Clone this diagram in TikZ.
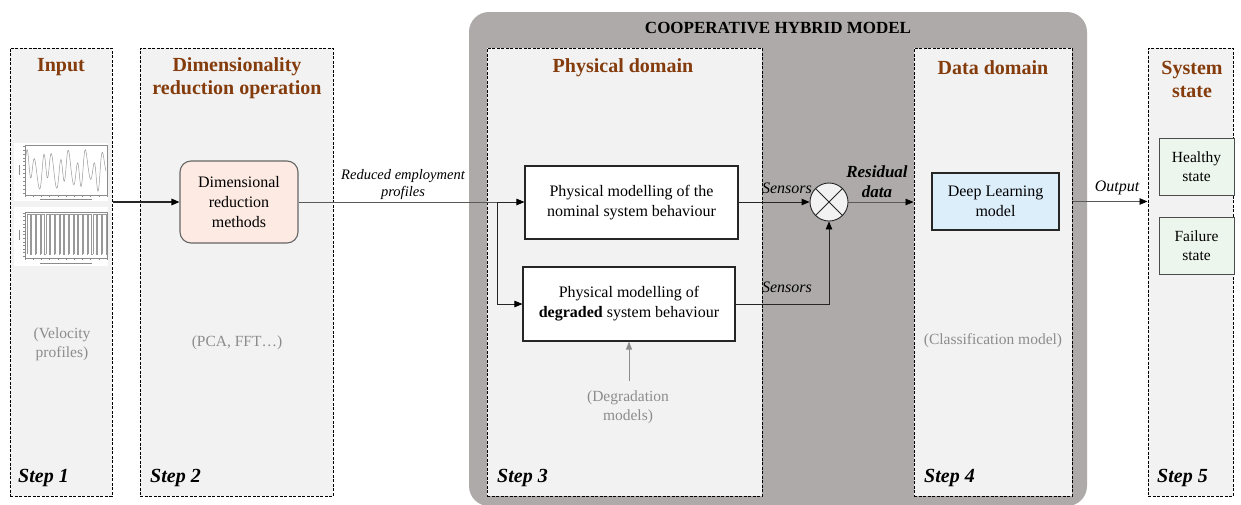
\documentclass[tikz,border=0pt]{standalone}
\usepackage{fontspec}
\setmainfont{Liberation Serif}
\usetikzlibrary{arrows.meta,calc}
\definecolor{panelfill}{HTML}{F2F2F2}
\definecolor{hybridgray}{HTML}{AEAAAA}
\definecolor{titlebrown}{HTML}{843C0C}
\definecolor{pinkfill}{HTML}{FCEAE3}
\definecolor{bluefill}{HTML}{DDEEFB}
\definecolor{greenfill}{HTML}{EDF6EC}
\definecolor{notegray}{HTML}{8C8C8C}
\definecolor{linegray}{HTML}{595959}
\begin{document}
\begin{tikzpicture}[x=1pt,y=-1pt,
 panel/.style={draw=black, dash pattern=on 3pt off 1.5pt, line width=1pt, fill=panelfill, inner sep=0pt},
 ptitle/.style={text=titlebrown, font=\fontsize{20}{23}\selectfont\bfseries, align=center},
 steplabel/.style={font=\fontsize{20}{24}\selectfont\bfseries\itshape, anchor=west, inner sep=0pt},
 note/.style={text=notegray, font=\fontsize{15.5}{19}\selectfont, align=center},
 box/.style={draw=black!85, line width=1.1pt, align=center, font=\fontsize{16}{20}\selectfont, inner sep=0pt},
 conn/.style={draw=black!85, line width=0.9pt},
 thinconn/.style={draw=linegray, line width=0.7pt},
 arr/.style={-{Triangle[length=8pt,width=6.5pt,color=black]}},
 lbl/.style={font=\fontsize{16}{19}\selectfont\itshape},
 plotline/.style={draw=black!40, line width=0.5pt},
 axisline/.style={draw=black!45, line width=0.3pt}]
\useasboundingbox (0,0) rectangle (1241,504);
\clip (0,0) rectangle (1241,504);
\fill[white] (0,0) rectangle (1241,504);

% hybrid background
\fill[hybridgray, rounded corners=20pt] (469,12) rectangle (1087,506);
\node[font=\fontsize{17}{20}\selectfont\bfseries] (hyb) at (778,28) {COOPERATIVE HYBRID MODEL};

% panels
\node[panel, minimum width=102pt, minimum height=448pt] (p1) at (61,272) {};
\node[panel, minimum width=193pt, minimum height=448pt] (p2) at (236.5,272) {};
\node[panel, minimum width=275pt, minimum height=448pt] (p3) at (624.5,272) {};
\node[panel, minimum width=158pt, minimum height=448pt] (p4) at (993,272) {};
\node[panel, minimum width=85pt, minimum height=448pt] (p5) at (1190.5,272) {};

% titles
\node[ptitle] (t1) at (61,67) {Input};
\node[ptitle] (t2) at (237,78) {Dimensionality\\reduction operation};
\node[ptitle] (t3) at (623,68) {Physical domain};
\node[ptitle] (t4) at (993,68) {Data domain};
\node[ptitle] (t5) at (1192,79) {System\\state};

% step labels
\node[steplabel] (s1) at (18,478) {Step 1};
\node[steplabel] (s2) at (150,478) {Step 2};
\node[steplabel] (s3) at (497,478) {Step 3};
\node[steplabel] (s4) at (924,478) {Step 4};
\node[steplabel] (s5) at (1157,478) {Step 5};

% notes
\node[note] (n1) at (62,344) {(Velocity\\profiles)};
\node[note] (n2) at (237,343) {(PCA, FFT…)};
\node[note] (n4) at (993,341) {(Classification model)};
\node[note] (n3) at (628,407) {(Degradation\\models)};

% mini plots in step 1
\fill[white] (14,143) rectangle (108,201);
\draw[axisline] (25,145) rectangle (107,195);
\foreach \k in {0,...,12} {\draw[axisline] (25,{146+\k*3.9}) -- (23,{146+\k*3.9});}
\foreach \k in {0,...,10} {\draw[axisline] ({25+\k*8.2},195) -- ({25+\k*8.2},197);}
\draw[axisline] (40,199) -- (92,199);
\draw[axisline] (19,165) -- (19,175);
\draw[plotline] plot[domain=0:1, samples=260] ({26+80*\x}, {170 - 13*sin(3420*\x+60) - 8*sin(1530*\x+20) - 3*sin(5100*\x)});
\fill[white] (14,207) rectangle (108,266);
\draw[axisline] (25,212) rectangle (107,258);
\foreach \k in {0,...,12} {\draw[axisline] (25,{213+\k*3.6}) -- (23,{213+\k*3.6});}
\foreach \k in {0,...,10} {\draw[axisline] ({25+\k*8.2},258) -- ({25+\k*8.2},260);}
\draw[axisline] (40,263) -- (92,263);
\draw[axisline] (19,230) -- (19,240);
\foreach \k in {0,...,16} {
  \draw[plotline] ({27+\k*4.7},254) -- ({27+\k*4.7},214) -- ({30.6+\k*4.7},214) -- ({30.6+\k*4.7},254) -- ({31.7+\k*4.7},254);
}

% boxes
\node[box, draw=black!60, fill=pinkfill, rounded corners=11pt, minimum width=118pt, minimum height=82pt] (dim) at (239,202) {Dimensional\\reduction\\methods};
\node[box, fill=white, minimum width=213pt, minimum height=73pt] (nom) at (631.5,202.5) {Physical modelling of the\\nominal system behaviour};
\node[box, fill=white, minimum width=212pt, minimum height=74pt] (deg) at (629,304) {Physical modelling of\\\textbf{degraded} system behaviour};
\node[box, fill=bluefill, minimum width=127pt, minimum height=57pt] (dl) at (995.5,201.5) {Deep Learning\\model};
\node[box, draw=black!70, fill=greenfill, line width=0.9pt, font=\fontsize{15.5}{19}\selectfont, minimum width=75pt, minimum height=57pt] (hs) at (1196.5,166.5) {Healthy\\state};
\node[box, draw=black!70, fill=greenfill, line width=0.9pt, font=\fontsize{15.5}{19}\selectfont, minimum width=75pt, minimum height=57pt] (fs) at (1196.5,245.5) {Failure\\state};
\node[draw=black!85, circle, minimum size=38pt, fill=panelfill, line width=0.9pt, inner sep=0pt] (mix) at (829,202) {};
\draw[black!85, line width=0.8pt] (mix.north west) -- (mix.south east) (mix.north east) -- (mix.south west);

% connectors
\draw[conn, line width=1.4pt, arr] (p1.east |- dim.west) -- (dim.west);
\coordinate (br) at (497,202);
\draw[thinconn] (dim.east) -- (br);
\node[lbl, font=\fontsize{14.5}{17}\selectfont\itshape, align=center] (rep) at (403,185) {Reduced employment\\profiles};
\draw[conn, arr] (br) -- (nom.west |- br);
\draw[conn, arr] (br) |- (deg.west);
\draw[conn, arr] (nom.east |- mix.west) -- (mix.west);
\draw[conn, arr] (deg.east) -| (mix.south);
\node[lbl] (sen1) at (787,188) {Sensors};
\node[lbl] (sen2) at (787,287) {Sensors};
\draw[thinconn, arr] (mix.east) -- (p4.west |- mix.east);
\node[font=\fontsize{17}{20}\selectfont\bfseries\itshape, align=center] (res) at (877,182) {Residual\\data};
\draw[thinconn, arr] (p4.east |- dl.east) -- (p5.west |- dl.east);
\node[lbl] (outl) at (1117,188) {Output};
\draw[draw=notegray, line width=0.9pt, -{Triangle[length=8pt,width=6pt]}] (n3.north -| deg.south) ++(0,-6) -- (deg.south);
\end{tikzpicture}
\end{document}
